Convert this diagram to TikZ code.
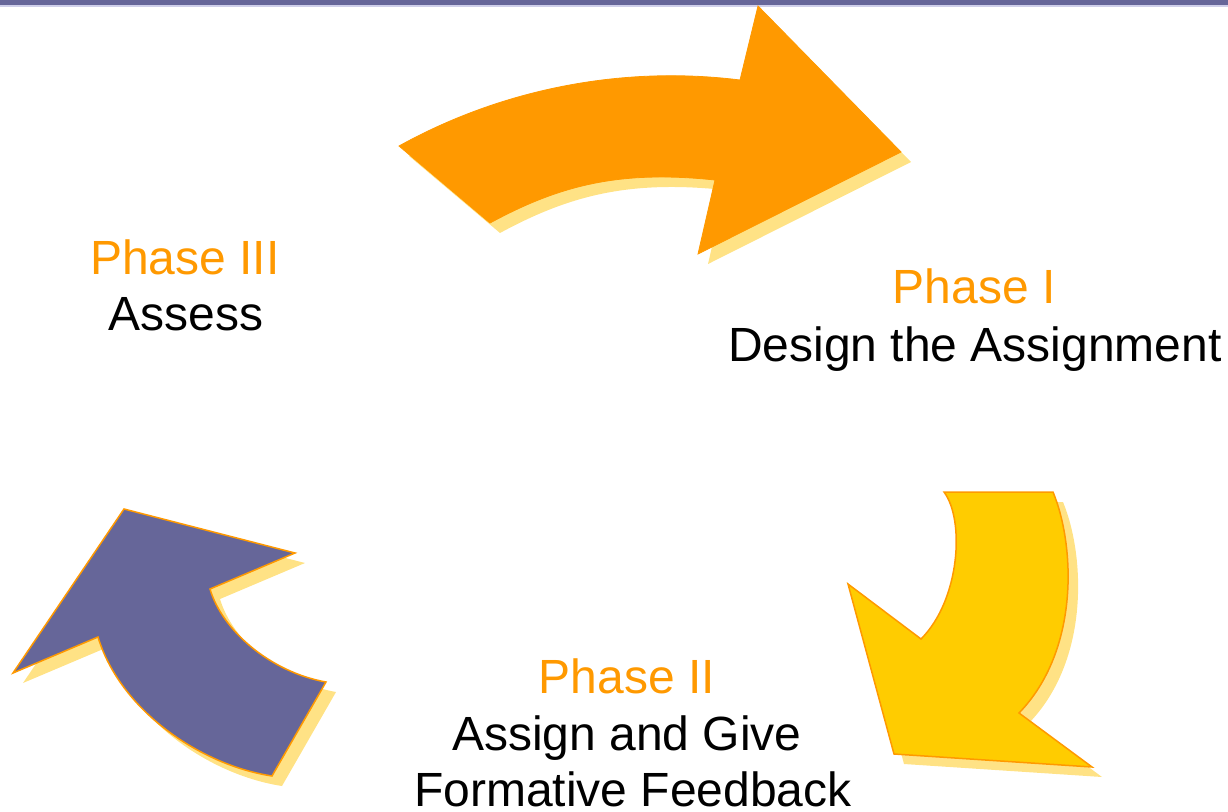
\documentclass[tikz,border=0pt]{standalone}
\usepackage{fontspec}
\setmainfont{Liberation Sans}
\definecolor{phaseorange}{HTML}{FF9900}
\definecolor{phaseyellow}{HTML}{FFCC00}
\definecolor{phasepurple}{HTML}{666699}
\definecolor{shadowyellow}{HTML}{FFE285}
\definecolor{rulelavender}{HTML}{CFCFEA}

% Outlines of the three cycle arrows (pixel-like units, y downwards)
\newcommand\arrowtop{(399,146) .. controls (500,90) and (620,65) .. (740,80)
  -- (758,6) -- (901,152) -- (698,254) -- (715,180)
  .. controls (620,170) and (560,185) .. (490,223) -- cycle}
\newcommand\arrowright{(944,492) -- (1053,492)
  .. controls (1075,545) and (1080,650) .. (1019,713)
  -- (1092,767) -- (894,754) -- (848,584) -- (921,639)
  .. controls (960,600) and (965,520) .. (944,492) -- cycle}
\newcommand\arrowleft{(124,509) -- (295,553) -- (210,589)
  .. controls (222,630) and (270,672) .. (326,682)
  -- (272,776) .. controls (200,765) and (120,710) .. (98,637)
  -- (13,673) -- cycle}

\tikzset{
  arrowshadow/.style={fill=shadowyellow, draw=none, shift={(10,10)}},
  phasetitle/.style={anchor=base, inner sep=0pt, text=phaseorange},
  phasetext/.style={anchor=base, inner sep=0pt, text=black},
}

\begin{document}
\begin{tikzpicture}[x=1pt, y=-1pt, line join=miter,
  every node/.style={font=\fontsize{48}{58}\selectfont}]
\useasboundingbox (0,0) rectangle (1228,811);

% header rule
\fill[phasepurple] (0,0) rectangle (1228,5);
\fill[rulelavender] (0,5) rectangle (1228,6.5);

% shadows
\path[arrowshadow] \arrowtop;
\path[arrowshadow] \arrowright;
\path[arrowshadow] \arrowleft;

% arrows
\path[fill=phaseorange, draw=phaseorange, line width=0.8pt] \arrowtop;
\path[fill=phaseyellow, draw=phaseorange, line width=1.5pt] \arrowright;
\path[fill=phasepurple, draw=phaseorange, line width=1.5pt] \arrowleft;

% labels
\node[phasetitle] (p1) at (974,303.3) {Phase I};
\node[phasetext]  (p1t) at (975,361.7) {Design the Assignment};

\node[phasetitle] (p2) at (627,693.3) {Phase II};
\node[phasetext]  (p2a) at (627,750) {Assign and Give};
\node[phasetext]  (p2b) at (633,806) {Formative Feedback};

\node[phasetitle] (p3) at (185,274) {Phase III};
\node[phasetext]  (p3t) at (186,330) {Assess};
\end{tikzpicture}
\end{document}
